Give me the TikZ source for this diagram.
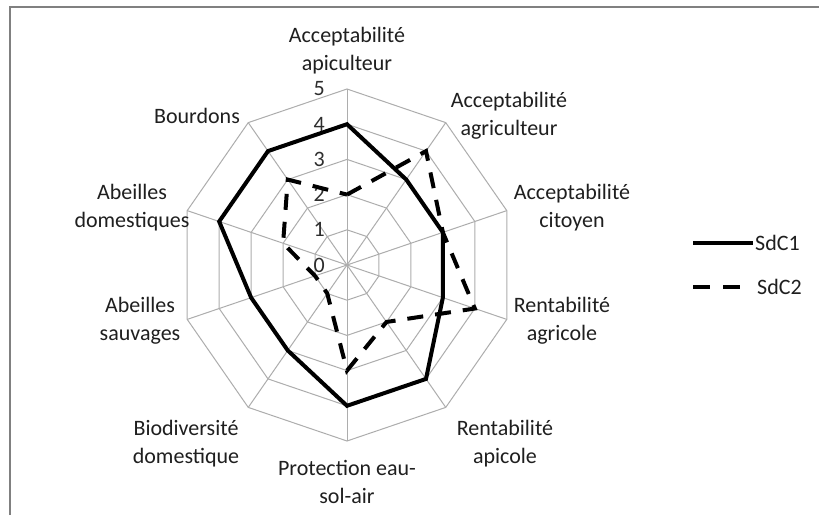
\documentclass[tikz,border=0pt]{standalone}
\usepackage{fontspec}
\setmainfont{Carlito}
\begin{document}
\begin{tikzpicture}[x=1pt,y=-1pt,
  gridline/.style={draw=black!32, line width=1pt},
  lbl/.style={font=\fontsize{22}{28}\selectfont, text=black!88, align=center, inner sep=0pt},
  ticklbl/.style={font=\fontsize{22}{24}\selectfont, text=black!82, anchor=east, inner sep=0pt},
  sdcone/.style={draw=black, line width=4pt, line join=miter},
  sdctwo/.style={draw=black, line width=4pt, dash pattern=on 16pt off 12pt, line join=miter},
]
\useasboundingbox (0,0) rectangle (819,515);
\fill[white] (0,0) rectangle (819,515);
\draw[black!50, line width=2pt] (10,515) -- (10,7) -- (819,7);

\coordinate (c) at (347,265);
% grid rings
\foreach \r in {1,...,5}{
  \draw[gridline] plot[samples at={0,36,...,324}] ({347+33.6*\r*sin(\x)},{265-35.2*\r*cos(\x)}) -- cycle;
}
% spokes
\foreach \i in {0,...,9}{
  \coordinate (o\i) at ({347+168*sin(36*\i)},{265-176*cos(36*\i)});
  \draw[gridline] (c) -- (o\i);
}
% tick labels
\foreach \k in {0,...,5}{
  \node[ticklbl] (t\k) at (325,{265-35.2*\k}) {\k};
}
% data
\foreach \i/\v in {0/4,1/3,2/3,3/3,4/4,5/4,6/3,7/3,8/4,9/4}{
  \coordinate (a\i) at ({347+33.6*\v*sin(36*\i)},{265-35.2*\v*cos(36*\i)});
}
\foreach \i/\v in {0/2,1/4,2/3,3/4,4/2,5/3,6/1,7/1,8/2,9/3}{
  \coordinate (b\i) at ({347+33.6*\v*sin(36*\i)},{265-35.2*\v*cos(36*\i)});
}
\draw[sdcone] (a0) -- (a1) -- (a2) -- (a3) -- (a4) -- (a5) -- (a6) -- (a7) -- (a8) -- (a9) -- cycle;
\draw[sdctwo] (b0) -- (b1) -- (b2) -- (b3) -- (b4) -- (b5) -- (b6) -- (b7) -- (b8) -- (b9) -- cycle;

% axis labels
\node[lbl] (l0) at (347,51) {Acceptabilité\\apiculteur};
\node[lbl] (l1) at (509,116) {Acceptabilité\\agriculteur};
\node[lbl] (l2) at (572,208) {Acceptabilité\\citoyen};
\node[lbl] (l3) at (562,321) {Rentabilité\\agricole};
\node[lbl] (l4) at (505,444) {Rentabilité\\apicole};
\node[lbl] (l5) at (347,482) {Protection eau-\\sol-air};
\node[lbl] (l6) at (186,444) {Biodiversité\\domestique};
\node[lbl] (l7) at (140,321) {Abeilles\\sauvages};
\node[lbl] (l8) at (132,208) {Abeilles\\domestiques};
\node[lbl] (l9) at (197,116) {Bourdons};

% legend
\coordinate (s1a) at (693,243);
\coordinate (s1b) at (753,243);
\draw[sdcone] (s1a) -- (s1b);
\node[lbl, anchor=west] (sd1) at (755,243) {SdC1};
\coordinate (s2a) at (693,287);
\coordinate (s2b) at (740,287);
\draw[sdctwo, dash pattern=on 17pt off 13pt] (s2a) -- (s2b);
\node[lbl, anchor=west] (sd2) at (757,287) {SdC2};
\end{tikzpicture}
\end{document}
